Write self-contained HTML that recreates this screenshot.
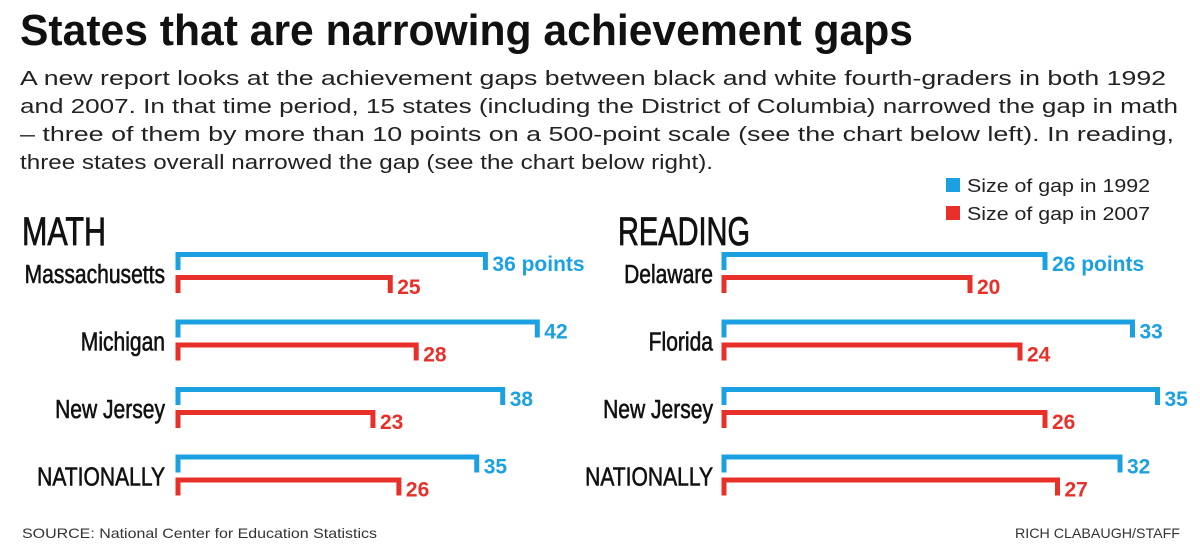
<!DOCTYPE html>
<html><head><meta charset="utf-8"><style>
html,body{margin:0;padding:0;background:#fff;}
svg{display:block;}
text{font-family:"Liberation Sans",sans-serif;}
.cond{font-family:"Liberation Sans Narrow","Liberation Sans",sans-serif;}
</style></head><body>
<svg id="chart" width="1200" height="559" viewBox="0 0 1200 559">
<text x="20" y="45" font-size="44" font-weight="bold" textLength="893" lengthAdjust="spacingAndGlyphs" fill="#111">States that are narrowing achievement gaps</text>
<g font-size="20" fill="#222">
<text x="20" y="85" textLength="1146" lengthAdjust="spacingAndGlyphs">A new report looks at the achievement gaps between black and white fourth-graders in both 1992</text>
<text x="20" y="113" textLength="1158" lengthAdjust="spacingAndGlyphs">and 2007. In that time period, 15 states (including the District of Columbia) narrowed the gap in math</text>
<text x="20" y="141" textLength="1154" lengthAdjust="spacingAndGlyphs">– three of them by more than 10 points on a 500-point scale (see the chart below left). In reading,</text>
<text x="20" y="169" textLength="693" lengthAdjust="spacingAndGlyphs">three states overall narrowed the gap (see the chart below right).</text>
</g>
<g>
<rect x="946" y="178" width="14" height="14" fill="#1ba1e2"/>
<text x="967" y="192" font-size="18" fill="#222" textLength="183" lengthAdjust="spacingAndGlyphs">Size of gap in 1992</text>
<rect x="946" y="206" width="14" height="14" fill="#e8302a"/>
<text x="967" y="220" font-size="18" fill="#222" textLength="183" lengthAdjust="spacingAndGlyphs">Size of gap in 2007</text>
</g>
<text class="cond" x="22" y="245" font-size="40" fill="#111" stroke="#111" stroke-width="0.8" textLength="84" lengthAdjust="spacingAndGlyphs">MATH</text>
<text class="cond" x="618" y="245" font-size="40" fill="#111" stroke="#111" stroke-width="0.8" textLength="132" lengthAdjust="spacingAndGlyphs">READING</text>
<g id="math"></g>
<g id="reading"></g>
<text x="22" y="538" font-size="14" fill="#333" textLength="355" lengthAdjust="spacingAndGlyphs">SOURCE: National Center for Education Statistics</text>
<text x="1180" y="538" font-size="14" fill="#333" text-anchor="end" textLength="165" lengthAdjust="spacingAndGlyphs">RICH CLABAUGH/STAFF</text>
</svg>
<script>
const mathStates = ["Massachusetts","Michigan","New Jersey","NATIONALLY"];
const math1992 = [36,42,38,35];
const math2007 = [25,28,23,26];
const readStates = ["Delaware","Florida","New Jersey","NATIONALLY"];
const read1992 = [26,33,35,32];
const read2007 = [20,24,26,27];

const NS="http://www.w3.org/2000/svg";
const BLUE="#1ba1e2", RED="#e8302a";
function mk(tag,attrs,parent){const e=document.createElementNS(NS,tag);for(const k in attrs)e.setAttribute(k,attrs[k]);parent.appendChild(e);return e;}
function draw(gid,states,v1,v2,x0,scale,labelRight){
  const g=document.getElementById(gid);
  const yTop=i=>252+i*67.5;
  states.forEach((s,i)=>{
    const tg=mk('g',{transform:`translate(${labelRight},${yTop(i)+31}) scale(0.81,1)`},g);
    const t=mk('text',{x:0,y:0,'font-size':26,fill:'#111',stroke:'#111','stroke-width':0.6,'text-anchor':'end'},tg);
    
    
    t.textContent=s;
    [[v1[i],BLUE,0,'bar-1992'],[v2[i],RED,23,'bar-2007']].forEach(([v,c,dy,nm])=>{
      const y=yTop(i)+dy, x1=x0+v*scale;
      const p=mk('path',{d:`M${x0+2} ${y+18} V${y+2.5} H${x1-2} V${y+18}`,fill:'none',stroke:c,'stroke-width':5},g);
      
      
      const lt=mk('text',{x:x1+5,y:y+19,'font-size':21,'font-weight':'bold',fill:c},g);
      
      
      lt.textContent=(i===0&&c===BLUE)?v+' points':String(v);
    });
  });
}
draw('math',mathStates,math1992,math2007,176,8.65,165);
draw('reading',readStates,read1992,read2007,722,12.5,713);
</script>
</body></html>
